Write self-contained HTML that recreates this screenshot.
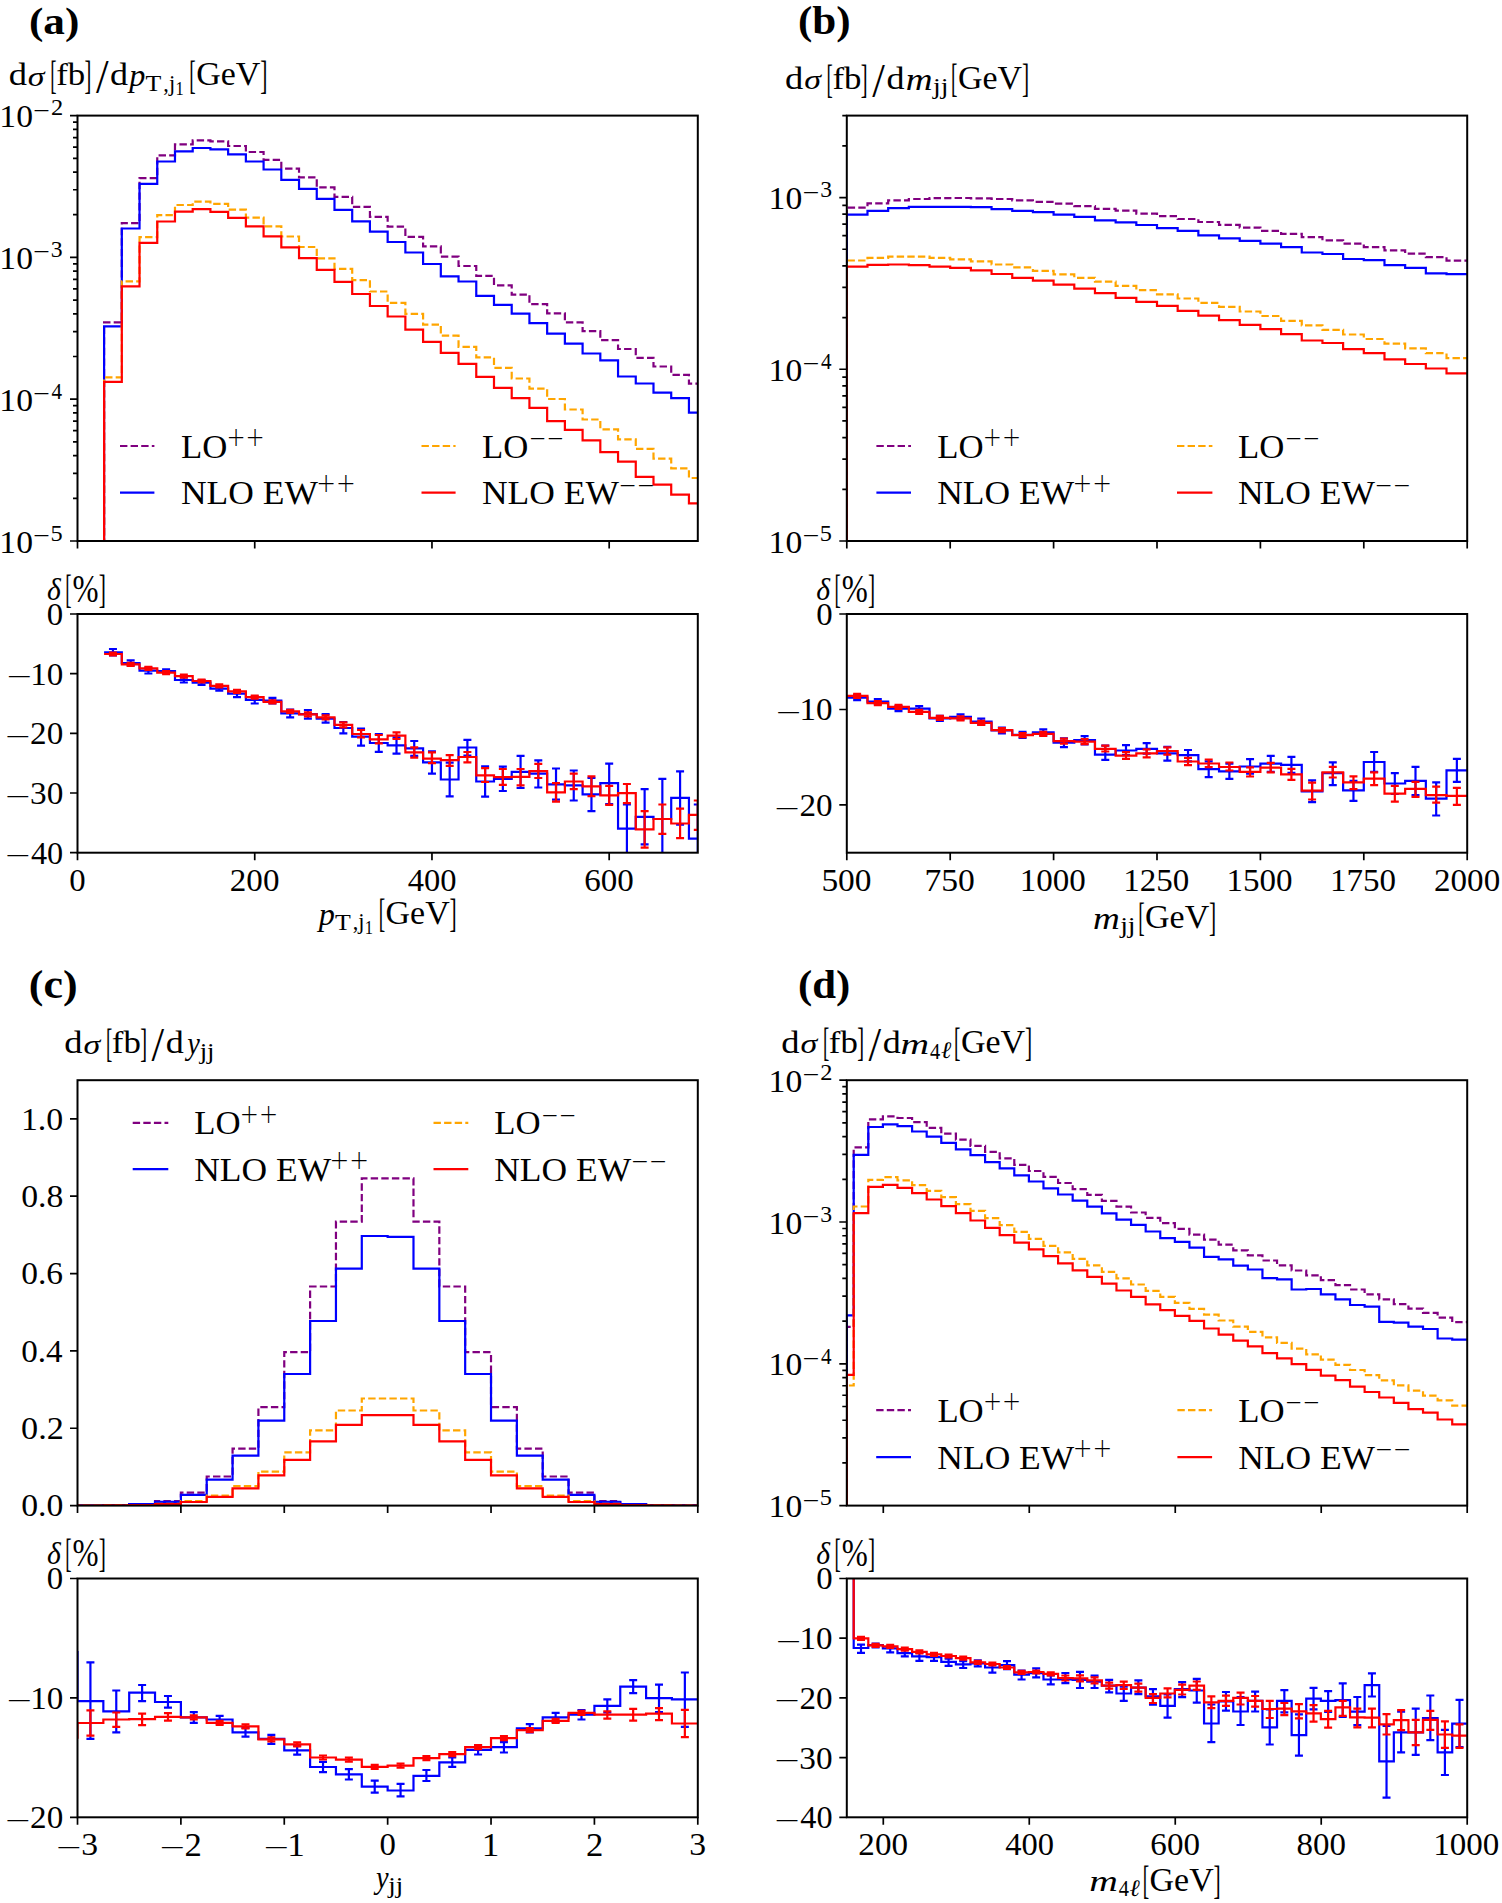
<!DOCTYPE html>
<html><head><meta charset="utf-8"><title>Differential distributions</title>
<style>html,body{margin:0;padding:0;background:#fff;}svg{display:block;}</style></head>
<body>
<svg width="1502" height="1903" viewBox="0 0 1502 1903" font-family="'Liberation Serif', 'DejaVu Serif', serif" fill="#000">
<defs><clipPath id="c1"><rect x="77.5" y="115.6" width="620.30" height="425.40"/></clipPath><clipPath id="c2"><rect x="77.5" y="614.0" width="620.30" height="238.70"/></clipPath><clipPath id="c3"><rect x="846.8" y="115.6" width="620.40" height="425.40"/></clipPath><clipPath id="c4"><rect x="846.8" y="614.0" width="620.40" height="238.70"/></clipPath><clipPath id="c5"><rect x="77.5" y="1080.2" width="620.30" height="425.40"/></clipPath><clipPath id="c6"><rect x="77.5" y="1578.5" width="620.30" height="238.80"/></clipPath><clipPath id="c7"><rect x="846.8" y="1080.2" width="620.40" height="425.40"/></clipPath><clipPath id="c8"><rect x="846.8" y="1578.5" width="620.40" height="238.80"/></clipPath></defs>
<rect width="1502" height="1903" fill="#fff"/>
<path d="M104.08 546V322.4H121.81V223.2H139.53V178.2H157.25V155.3H174.98V144.4H192.7V140.4H210.42V141.3H228.14V146H245.87V152H263.59V159.8H281.31V168.6H299.03V177.4H316.76V187.4H334.48V196.9H352.2V206.8H369.93V216.9H387.65V226.6H405.37V236.9H423.09V246.4H440.82V256.6H458.54V266H476.26V275.8H493.99V285.3H511.71V294.6H529.43V304.1H547.15V313.3H564.88V322.4H582.6V331.2H600.32V340.2H618.05V349H635.77V357.9H653.49V366.5H671.21V374.8H688.94V383.7H706.66H716.66" fill="none" stroke="#800080" stroke-width="2.2" stroke-dasharray="7.4 3.2" clip-path="url(#c1)"/>
<path d="M104.08 546V326.4H121.81V228.5H139.53V183.9H157.25V161.5H174.98V151.3H192.7V148H210.42V149.3H228.14V154.4H245.87V161.5H263.59V169.5H281.31V179.8H299.03V188.8H316.76V198.8H334.48V209.8H352.2V221.3H369.93V231.7H387.65V242H405.37V252.5H423.09V264H440.82V276.3H458.54V281.5H476.26V295.9H493.99V304.9H511.71V313.6H529.43V323.2H547.15V333.7H564.88V343.6H582.6V353.5H600.32V360.4H618.05V376.5H635.77V383.5H653.49V392.7H671.21V398.1H688.94V412.6H706.66H716.66" fill="none" stroke="#0000ff" stroke-width="2.2" clip-path="url(#c1)"/>
<path d="M104.08 546V377.4H121.81V281.3H139.53V237.2H157.25V215.2H174.98V205H192.7V201.6H210.42V203.9H228.14V209.6H245.87V217.6H263.59V226.4H281.31V236.5H299.03V247H316.76V258.4H334.48V268.9H352.2V280.1H369.93V291.5H387.65V302.8H405.37V313.8H423.09V324.7H440.82V335.7H458.54V346.8H476.26V357.4H493.99V367.9H511.71V378.5H529.43V388.7H547.15V399H564.88V409.5H582.6V419.5H600.32V429.4H618.05V439.4H635.77V448.9H653.49V458.6H671.21V468.4H688.94V478H706.66H716.66" fill="none" stroke="#ffa500" stroke-width="2.2" stroke-dasharray="7.4 3.2" clip-path="url(#c1)"/>
<path d="M104.08 546V381.8H121.81V286.4H139.53V242.8H157.25V221.5H174.98V211.6H192.7V209.2H210.42V211.9H228.14V217.9H245.87V226.3H263.59V236.3H281.31V247.3H299.03V258.1H316.76V269.8H334.48V281.8H352.2V294H369.93V306H387.65V316.5H405.37V329.6H423.09V341.9H440.82V352.9H458.54V363.8H476.26V376.8H493.99V387.8H511.71V398.1H529.43V407.8H547.15V421.1H564.88V429.8H582.6V440.3H600.32V452.2H618.05V461.7H635.77V476.9H653.49V484.7H671.21V494.7H688.94V503.3H706.66H716.66" fill="none" stroke="#ff0000" stroke-width="2.2" clip-path="url(#c1)"/>
<path d="M104.08 652.4H121.81V663H139.53V670.6H157.25V671H174.98V680H192.7V682.6H210.42V688.6H228.14V693.6H245.87V699.9H263.59V700.6H281.31V713.3H299.03V714.2H316.76V718.6H334.48V728H352.2V736.6H369.93V743H387.65V745.3H405.37V748.3H423.09V762.3H440.82V779.5H458.54V747.5H476.26V781.5H493.99V778.9H511.71V771.9H529.43V773.7H547.15V784.4H564.88V785.4H582.6V794.4H600.32V783.2H618.05V828.7H635.77V816.9H653.49V819H671.21V797.9H688.94V838.6H706.66" fill="none" stroke="#0000ff" stroke-width="2.2" clip-path="url(#c2)"/>
<path d="M112.95 649V655.5M108.95 649H116.95M108.95 655.5H116.95M130.67 660.4V665.5M126.67 660.4H134.67M126.67 665.5H134.67M148.39 667.5V673.5M144.39 667.5H152.39M144.39 673.5H152.39M166.11 669.3V673M162.11 669.3H170.11M162.11 673H170.11M183.84 677.5V682.5M179.84 677.5H187.84M179.84 682.5H187.84M201.56 680V685M197.56 680H205.56M197.56 685H205.56M219.28 686.5V690.6M215.28 686.5H223.28M215.28 690.6H223.28M237.01 690V697.2M233.01 690H241.01M233.01 697.2H241.01M254.73 696.5V703.5M250.73 696.5H258.73M250.73 703.5H258.73M272.45 697.9V703.5M268.45 697.9H276.45M268.45 703.5H276.45M290.17 709.5V717.3M286.17 709.5H294.17M286.17 717.3H294.17M307.9 710V718.6M303.9 710H311.9M303.9 718.6H311.9M325.62 714.2V722.6M321.62 714.2H329.62M321.62 722.6H329.62M343.34 722V733.3M339.34 722H347.34M339.34 733.3H347.34M361.06 728.6V745.7M357.06 728.6H365.06M357.06 745.7H365.06M378.79 734V751.9M374.79 734H382.79M374.79 751.9H382.79M396.51 737.3V753.6M392.51 737.3H400.51M392.51 753.6H400.51M414.23 741V755.9M410.23 741H418.23M410.23 755.9H418.23M431.96 751.3V773.6M427.96 751.3H435.96M427.96 773.6H435.96M449.68 762.6V796.3M445.68 762.6H453.68M445.68 796.3H453.68M467.4 739.9V755.5M463.4 739.9H471.4M463.4 755.5H471.4M485.12 766.4V796.7M481.12 766.4H489.12M481.12 796.7H489.12M502.85 766.7V791M498.85 766.7H506.85M498.85 791H506.85M520.57 755.8V788M516.57 755.8H524.57M516.57 788H524.57M538.29 760.3V787.5M534.29 760.3H542.29M534.29 787.5H542.29M556.02 768.5V799.6M552.02 768.5H560.02M552.02 799.6H560.02M573.74 770.5V800.5M569.74 770.5H577.74M569.74 800.5H577.74M591.46 778V811.2M587.46 778H595.46M587.46 811.2H595.46M609.18 763.6V804M605.18 763.6H613.18M605.18 804H613.18M626.91 804.3V860M622.91 804.3H630.91M622.91 860H630.91M644.63 789.2V844.3M640.63 789.2H648.63M640.63 844.3H648.63M662.35 778.9V860M658.35 778.9H666.35M658.35 860H666.35M680.08 771.4V824.7M676.08 771.4H684.08M676.08 824.7H684.08M697.8 804.5V872M693.8 804.5H701.8M693.8 872H701.8" fill="none" stroke="#0000ff" stroke-width="2.2" clip-path="url(#c2)"/>
<path d="M104.08 654H121.81V664.4H139.53V668.3H157.25V672.6H174.98V676.2H192.7V681H210.42V685.9H228.14V691.3H245.87V697.2H263.59V701.8H281.31V711.3H299.03V714.4H316.76V717.3H334.48V724.9H352.2V734H369.93V739.3H387.65V735.7H405.37V752.3H423.09V758.6H440.82V760.2H458.54V757H476.26V775.4H493.99V777.1H511.71V776.8H529.43V771.1H547.15V792.4H564.88V781.5H582.6V786.3H600.32V795.3H618.05V793.2H635.77V829.4H653.49V819H671.21V823.5H688.94V814.9H706.66" fill="none" stroke="#ff0000" stroke-width="2.2" clip-path="url(#c2)"/>
<path d="M112.95 652.5V655.5M108.95 652.5H116.95M108.95 655.5H116.95M130.67 662.9V665.9M126.67 662.9H134.67M126.67 665.9H134.67M148.39 666.8V669.8M144.39 666.8H152.39M144.39 669.8H152.39M166.11 671.1V674.1M162.11 671.1H170.11M162.11 674.1H170.11M183.84 674.7V677.7M179.84 674.7H187.84M179.84 677.7H187.84M201.56 679.5V682.5M197.56 679.5H205.56M197.56 682.5H205.56M219.28 684.4V687.4M215.28 684.4H223.28M215.28 687.4H223.28M237.01 689.8V692.8M233.01 689.8H241.01M233.01 692.8H241.01M254.73 695.7V698.7M250.73 695.7H258.73M250.73 698.7H258.73M272.45 700.3V703.3M268.45 700.3H276.45M268.45 703.3H276.45M290.17 709.8V712.8M286.17 709.8H294.17M286.17 712.8H294.17M307.9 712.4V716.4M303.9 712.4H311.9M303.9 716.4H311.9M325.62 715.3V719.3M321.62 715.3H329.62M321.62 719.3H329.62M343.34 722.4V727.3M339.34 722.4H347.34M339.34 727.3H347.34M361.06 730V737.3M357.06 730H365.06M357.06 737.3H365.06M378.79 735V743.3M374.79 735H382.79M374.79 743.3H382.79M396.51 732.3V739M392.51 732.3H400.51M392.51 739H400.51M414.23 747.3V757.6M410.23 747.3H418.23M410.23 757.6H418.23M431.96 752.3V763.2M427.96 752.3H435.96M427.96 763.2H435.96M449.68 755.2V765.9M445.68 755.2H453.68M445.68 765.9H453.68M467.4 752V762.4M463.4 752H471.4M463.4 762.4H471.4M485.12 768.1V782M481.12 768.1H489.12M481.12 782H489.12M502.85 769V784.9M498.85 769H506.85M498.85 784.9H506.85M520.57 769V785.4M516.57 769H524.57M516.57 785.4H524.57M538.29 763.8V778M534.29 763.8H542.29M534.29 778H542.29M556.02 783.2V801.7M552.02 783.2H560.02M552.02 801.7H560.02M573.74 773.7V789.2M569.74 773.7H577.74M569.74 789.2H577.74M591.46 776.3V796.2M587.46 776.3H595.46M587.46 796.2H595.46M609.18 785.8V804.8M605.18 785.8H613.18M605.18 804.8H613.18M626.91 784V803.1M622.91 784H630.91M622.91 803.1H630.91M644.63 811.2V847.7M640.63 811.2H648.63M640.63 847.7H648.63M662.35 804.5V833.9M658.35 804.5H666.35M658.35 833.9H666.35M680.08 808.6V838.2M676.08 808.6H684.08M676.08 838.2H684.08M697.8 800.5V829.9M693.8 800.5H701.8M693.8 829.9H701.8" fill="none" stroke="#ff0000" stroke-width="2.2" clip-path="url(#c2)"/>
<path d="M846.8 546V207.7H867.48V203.4H888.16V200.4H908.84V199H929.52V198.2H950.2V198H970.88V198.3H991.56V199H1012.24V200.3H1032.92V201.8H1053.6V203.7H1074.28V206.2H1094.96V208.8H1115.64V210.7H1136.32V213.6H1157V216.2H1177.68V219H1198.36V222H1219.04V224.9H1239.72V227.6H1260.4V230.8H1281.08V233.8H1301.76V237.2H1322.44V240.4H1343.12V243.7H1363.8V247.1H1384.48V250.3H1405.16V253.7H1425.84V257.1H1446.52V260.6H1467.2H1477.2" fill="none" stroke="#800080" stroke-width="2.2" stroke-dasharray="7.4 3.2" clip-path="url(#c3)"/>
<path d="M846.8 546V214.6H867.48V210.8H888.16V208.2H908.84V206.8H929.52V206.8H950.2V206.8H970.88V207.2H991.56V209.1H1012.24V210.8H1032.92V212.2H1053.6V214.6H1074.28V216.9H1094.96V220.4H1115.64V222.4H1136.32V225H1157V228.2H1177.68V230.9H1198.36V235.3H1219.04V238.3H1239.72V240.8H1260.4V243.7H1281.08V247.1H1301.76V252.5H1322.44V254H1343.12V259H1363.8V260.1H1384.48V265.2H1405.16V267.9H1425.84V273.3H1446.52V274.1H1467.2H1477.2" fill="none" stroke="#0000ff" stroke-width="2.2" clip-path="url(#c3)"/>
<path d="M846.8 546V260.5H867.48V257.9H888.16V256.7H908.84V256.7H929.52V257.9H950.2V259.3H970.88V261.4H991.56V264.5H1012.24V267.4H1032.92V270.9H1053.6V274.3H1074.28V277.8H1094.96V281.7H1115.64V285.9H1136.32V290.1H1157V294.3H1177.68V298.5H1198.36V302.8H1219.04V306.9H1239.72V311.5H1260.4V316H1281.08V320.8H1301.76V325.4H1322.44V329.8H1343.12V334.5H1363.8V339H1384.48V343.7H1405.16V348.3H1425.84V353.2H1446.52V358.1H1467.2H1477.2" fill="none" stroke="#ffa500" stroke-width="2.2" stroke-dasharray="7.4 3.2" clip-path="url(#c3)"/>
<path d="M846.8 546V266.6H867.48V264.8H888.16V264.5H908.84V265.2H929.52V266.6H950.2V267.9H970.88V270.4H991.56V274H1012.24V277.8H1032.92V280.7H1053.6V284.7H1074.28V288.6H1094.96V293.1H1115.64V297.9H1136.32V301.9H1157V305.9H1177.68V310.8H1198.36V315.6H1219.04V320.1H1239.72V324.9H1260.4V329.2H1281.08V334.1H1301.76V340.5H1322.44V343H1343.12V349.1H1363.8V353.2H1384.48V359.4H1405.16V364H1425.84V368.5H1446.52V373.4H1467.2H1477.2" fill="none" stroke="#ff0000" stroke-width="2.2" clip-path="url(#c3)"/>
<path d="M846.8 697.6H867.48V701.7H888.16V708.6H908.84V708.6H929.52V718.4H950.2V716.9H970.88V721.7H991.56V730.5H1012.24V734.9H1032.92V732.4H1053.6V742.7H1074.28V740.2H1094.96V754.7H1115.64V750.5H1136.32V748.9H1157V753.4H1177.68V755.2H1198.36V769.1H1219.04V771.3H1239.72V766.5H1260.4V763.6H1281.08V764.8H1301.76V791.5H1322.44V773.1H1343.12V790.4H1363.8V762H1384.48V783.5H1405.16V780.8H1425.84V798.7H1446.52V770.4H1467.2" fill="none" stroke="#0000ff" stroke-width="2.2" clip-path="url(#c4)"/>
<path d="M857.14 695.1V700.1M853.14 695.1H861.14M853.14 700.1H861.14M877.82 699.2V704.2M873.82 699.2H881.82M873.82 704.2H881.82M898.5 706.1V711.1M894.5 706.1H902.5M894.5 711.1H902.5M919.18 706.1V711.1M915.18 706.1H923.18M915.18 711.1H923.18M939.86 715.9V720.9M935.86 715.9H943.86M935.86 720.9H943.86M960.54 714.4V719.4M956.54 714.4H964.54M956.54 719.4H964.54M981.22 718.7V724.7M977.22 718.7H985.22M977.22 724.7H985.22M1001.9 727.5V733.5M997.9 727.5H1005.9M997.9 733.5H1005.9M1022.58 731.9V737.9M1018.58 731.9H1026.58M1018.58 737.9H1026.58M1043.26 729.4V735.4M1039.26 729.4H1047.26M1039.26 735.4H1047.26M1063.94 738.3V747.1M1059.94 738.3H1067.94M1059.94 747.1H1067.94M1084.62 736.1V744.3M1080.62 736.1H1088.62M1080.62 744.3H1088.62M1105.3 745.6V759.8M1101.3 745.6H1109.3M1101.3 759.8H1109.3M1125.98 745.2V755.2M1121.98 745.2H1129.98M1121.98 755.2H1129.98M1146.66 743.1V753.7M1142.66 743.1H1150.66M1142.66 753.7H1150.66M1167.34 746.8V760.6M1163.34 746.8H1171.34M1163.34 760.6H1171.34M1188.02 750V761.3M1184.02 750H1192.02M1184.02 761.3H1192.02M1208.7 761.3V777.1M1204.7 761.3H1212.7M1204.7 777.1H1212.7M1229.38 763.7V778.9M1225.38 763.7H1233.38M1225.38 778.9H1233.38M1250.06 759.2V773.7M1246.06 759.2H1254.06M1246.06 773.7H1254.06M1270.74 755.9V771.9M1266.74 755.9H1274.74M1266.74 771.9H1274.74M1291.42 756.8V772.8M1287.42 756.8H1295.42M1287.42 772.8H1295.42M1312.1 780.3V802.2M1308.1 780.3H1316.1M1308.1 802.2H1316.1M1332.78 762.3V785.1M1328.78 762.3H1336.78M1328.78 785.1H1336.78M1353.46 780.8V800.8M1349.46 780.8H1357.46M1349.46 800.8H1357.46M1374.14 752V771.9M1370.14 752H1378.14M1370.14 771.9H1378.14M1394.82 773.1V794M1390.82 773.1H1398.82M1390.82 794H1398.82M1415.5 766.8V795.2M1411.5 766.8H1419.5M1411.5 795.2H1419.5M1436.18 782.4V815.5M1432.18 782.4H1440.18M1432.18 815.5H1440.18M1456.86 758.8V781.9M1452.86 758.8H1460.86M1452.86 781.9H1460.86" fill="none" stroke="#0000ff" stroke-width="2.2" clip-path="url(#c4)"/>
<path d="M846.8 695.8H867.48V703.1H888.16V706.8H908.84V711.9H929.52V717.8H950.2V718.4H970.88V722.8H991.56V730.1H1012.24V735.2H1032.92V733.9H1053.6V741.2H1074.28V741.7H1094.96V748.9H1115.64V755.6H1136.32V753.4H1157V751H1177.68V761.5H1198.36V763.5H1219.04V767H1239.72V771.8H1260.4V767.6H1281.08V774.4H1301.76V790.7H1322.44V772.3H1343.12V782.4H1363.8V778.7H1384.48V793.6H1405.16V788.8H1425.84V795.2H1446.52V795.8H1467.2" fill="none" stroke="#ff0000" stroke-width="2.2" clip-path="url(#c4)"/>
<path d="M857.14 693.8V697.8M853.14 693.8H861.14M853.14 697.8H861.14M877.82 701.1V705.1M873.82 701.1H881.82M873.82 705.1H881.82M898.5 704.8V708.8M894.5 704.8H902.5M894.5 708.8H902.5M919.18 709.9V713.9M915.18 709.9H923.18M915.18 713.9H923.18M939.86 715.8V719.8M935.86 715.8H943.86M935.86 719.8H943.86M960.54 716.4V720.4M956.54 716.4H964.54M956.54 720.4H964.54M981.22 720.8V724.8M977.22 720.8H985.22M977.22 724.8H985.22M1001.9 728.1V732.1M997.9 728.1H1005.9M997.9 732.1H1005.9M1022.58 733.2V737.2M1018.58 733.2H1026.58M1018.58 737.2H1026.58M1043.26 731.9V735.9M1039.26 731.9H1047.26M1039.26 735.9H1047.26M1063.94 738.7V743.7M1059.94 738.7H1067.94M1059.94 743.7H1067.94M1084.62 739.2V744.2M1080.62 739.2H1088.62M1080.62 744.2H1088.62M1105.3 745.6V751.5M1101.3 745.6H1109.3M1101.3 751.5H1109.3M1125.98 752.2V758.8M1121.98 752.2H1129.98M1121.98 758.8H1129.98M1146.66 749.3V757.4M1142.66 749.3H1150.66M1142.66 757.4H1150.66M1167.34 747.4V754.7M1163.34 747.4H1171.34M1163.34 754.7H1171.34M1188.02 757.8V765.1M1184.02 757.8H1192.02M1184.02 765.1H1192.02M1208.7 759.5V767.2M1204.7 759.5H1212.7M1204.7 767.2H1212.7M1229.38 762.5V770.5M1225.38 762.5H1233.38M1225.38 770.5H1233.38M1250.06 767.3V776.5M1246.06 767.3H1254.06M1246.06 776.5H1254.06M1270.74 762.8V772.3M1266.74 762.8H1274.74M1266.74 772.3H1274.74M1291.42 768.8V779.9M1287.42 768.8H1295.42M1287.42 779.9H1295.42M1312.1 782.7V799.5M1308.1 782.7H1316.1M1308.1 799.5H1316.1M1332.78 766.8V777.5M1328.78 766.8H1336.78M1328.78 777.5H1336.78M1353.46 776.3V789.1M1349.46 776.3H1357.46M1349.46 789.1H1357.46M1374.14 772.3V785.1M1370.14 772.3H1378.14M1370.14 785.1H1378.14M1394.82 785.9V801.6M1390.82 785.9H1398.82M1390.82 801.6H1398.82M1415.5 781.9V796.8M1411.5 781.9H1419.5M1411.5 796.8H1419.5M1436.18 786.7V802.7M1432.18 786.7H1440.18M1432.18 802.7H1440.18M1456.86 787.8V804.8M1452.86 787.8H1460.86M1452.86 804.8H1460.86" fill="none" stroke="#ff0000" stroke-width="2.2" clip-path="url(#c4)"/>
<path d="M77.5 1510.6V1505.4H103.34V1505.2H129.19V1504H155.03V1501.1H180.88V1492.6H206.72V1476.5H232.57V1448.7H258.41V1407.2H284.26V1352.2H310.11V1286.5H335.95V1221.6H361.79V1178.4H387.64V1178.4H413.49V1221.6H439.33V1286.5H465.17V1352.2H491.02V1407.2H516.87V1448.7H542.71V1476.5H568.55V1492.6H594.4V1501.1H620.25V1504H646.09V1505.2H671.93V1505.4H697.78H707.78" fill="none" stroke="#800080" stroke-width="2.2" stroke-dasharray="7.4 3.2" clip-path="url(#c5)"/>
<path d="M77.5 1510.6V1505.4H103.34V1505.2H129.19V1504.2H155.03V1501.9H180.88V1494.8H206.72V1479.6H232.57V1455.7H258.41V1420.7H284.26V1374H310.11V1321H335.95V1268.7H361.79V1236H387.64V1236.9H413.49V1268.7H439.33V1321H465.17V1374H491.02V1420.7H516.87V1455.7H542.71V1479.6H568.55V1494.8H594.4V1501.9H620.25V1504.2H646.09V1505.2H671.93V1505.4H697.78H707.78" fill="none" stroke="#0000ff" stroke-width="2.2" clip-path="url(#c5)"/>
<path d="M77.5 1510.6V1505.5H103.34V1505.4H129.19V1505H155.03V1503.8H180.88V1501H206.72V1495.6H232.57V1486.1H258.41V1471.6H284.26V1452.4H310.11V1430.3H335.95V1410.5H361.79V1398.5H387.64V1398.5H413.49V1410.5H439.33V1430.3H465.17V1452.4H491.02V1471.6H516.87V1486.1H542.71V1495.6H568.55V1501H594.4V1503.8H620.25V1505H646.09V1505.4H671.93V1505.5H697.78H707.78" fill="none" stroke="#ffa500" stroke-width="2.2" stroke-dasharray="7.4 3.2" clip-path="url(#c5)"/>
<path d="M77.5 1510.6V1505.5H103.34V1505.4H129.19V1505H155.03V1504.1H180.88V1502H206.72V1496.8H232.57V1488.4H258.41V1475.4H284.26V1459.8H310.11V1441.4H335.95V1424.8H361.79V1415.1H387.64V1415.1H413.49V1424.8H439.33V1441.4H465.17V1459.8H491.02V1475.4H516.87V1488.4H542.71V1496.8H568.55V1502H594.4V1504.1H620.25V1505H646.09V1505.4H671.93V1505.5H697.78H707.78" fill="none" stroke="#ff0000" stroke-width="2.2" clip-path="url(#c5)"/>
<path d="M77.5 1651V1701.1H103.34V1711.4H129.19V1692.7H155.03V1702H180.88V1717.3H206.72V1719.5H232.57V1732.3H258.41V1738.9H284.26V1750.3H310.11V1767H335.95V1774.4H361.79V1786.7H387.64V1790.5H413.49V1775.8H439.33V1762.4H465.17V1749.8H491.02V1747.2H516.87V1728.3H542.71V1717.3H568.55V1714.7H594.4V1705.9H620.25V1686.6H646.09V1698.2H671.93V1699.3H697.78" fill="none" stroke="#0000ff" stroke-width="2.2" clip-path="url(#c6)"/>
<path d="M90.42 1662.4V1738.9M86.42 1662.4H94.42M86.42 1738.9H94.42M116.27 1690.5V1732.3M112.27 1690.5H120.27M112.27 1732.3H120.27M142.11 1685V1701.1M138.11 1685H146.11M138.11 1701.1H146.11M167.96 1696V1707.7M163.96 1696H171.96M163.96 1707.7H171.96M193.8 1712.1V1722.8M189.8 1712.1H197.8M189.8 1722.8H197.8M219.65 1715.8V1723.5M215.65 1715.8H223.65M215.65 1723.5H223.65M245.49 1728V1736.7M241.49 1728H249.49M241.49 1736.7H249.49M271.34 1734.9V1743.9M267.34 1734.9H275.34M267.34 1743.9H275.34M297.18 1746V1754.7M293.18 1746H301.18M293.18 1754.7H301.18M323.03 1761.9V1772.2M319.03 1761.9H327.03M319.03 1772.2H327.03M348.87 1769.2V1779.5M344.87 1769.2H352.87M344.87 1779.5H352.87M374.72 1780.6V1792.7M370.72 1780.6H378.72M370.72 1792.7H378.72M400.56 1783.9V1796.4M396.56 1783.9H404.56M396.56 1796.4H404.56M426.41 1770V1781M422.41 1770H430.41M422.41 1781H430.41M452.25 1757.5V1766.8M448.25 1757.5H456.25M448.25 1766.8H456.25M478.1 1745V1754.5M474.1 1745H482.1M474.1 1754.5H482.1M503.94 1742.2V1752.5M499.94 1742.2H507.94M499.94 1752.5H507.94M529.79 1724.1V1732.5M525.79 1724.1H533.79M525.79 1732.5H533.79M555.63 1712.9V1722M551.63 1712.9H559.63M551.63 1722H559.63M581.48 1710V1719.5M577.48 1710H585.48M577.48 1719.5H585.48M607.32 1699.3V1712.5M603.32 1699.3H611.32M603.32 1712.5H611.32M633.17 1680.2V1693.2M629.17 1680.2H637.17M629.17 1693.2H637.17M659.01 1684.6V1712.1M655.01 1684.6H663.01M655.01 1712.1H663.01M684.86 1672.5V1726.8M680.86 1672.5H688.86M680.86 1726.8H688.86" fill="none" stroke="#0000ff" stroke-width="2.2" clip-path="url(#c6)"/>
<path d="M77.5 1738.8V1723H103.34V1719.5H129.19V1719.1H155.03V1716.9H180.88V1717.3H206.72V1722.8H232.57V1726.3H258.41V1739.3H284.26V1744.3H310.11V1757.5H335.95V1759.7H361.79V1766.8H387.64V1765.7H413.49V1758.2H439.33V1754.2H465.17V1747.2H491.02V1738.2H516.87V1730.1H542.71V1720.8H568.55V1712.9H594.4V1714.7H620.25V1714.7H646.09V1713.6H671.93V1723.5H697.78" fill="none" stroke="#ff0000" stroke-width="2.2" clip-path="url(#c6)"/>
<path d="M90.42 1710.3V1735.6M86.42 1710.3H94.42M86.42 1735.6H94.42M116.27 1712.5V1726.8M112.27 1712.5H120.27M112.27 1726.8H120.27M142.11 1713.6V1725.2M138.11 1713.6H146.11M138.11 1725.2H146.11M167.96 1713.2V1720.6M163.96 1713.2H171.96M163.96 1720.6H171.96M193.8 1715.3V1719.3M189.8 1715.3H197.8M189.8 1719.3H197.8M219.65 1720.8V1724.8M215.65 1720.8H223.65M215.65 1724.8H223.65M245.49 1724.3V1728.3M241.49 1724.3H249.49M241.49 1728.3H249.49M271.34 1737.3V1741.3M267.34 1737.3H275.34M267.34 1741.3H275.34M297.18 1742.3V1746.3M293.18 1742.3H301.18M293.18 1746.3H301.18M323.03 1755.5V1759.5M319.03 1755.5H327.03M319.03 1759.5H327.03M348.87 1757.7V1761.7M344.87 1757.7H352.87M344.87 1761.7H352.87M374.72 1764.8V1768.8M370.72 1764.8H378.72M370.72 1768.8H378.72M400.56 1763.7V1767.7M396.56 1763.7H404.56M396.56 1767.7H404.56M426.41 1756.2V1760.2M422.41 1756.2H430.41M422.41 1760.2H430.41M452.25 1752.2V1756.2M448.25 1752.2H456.25M448.25 1756.2H456.25M478.1 1745.2V1749.2M474.1 1745.2H482.1M474.1 1749.2H482.1M503.94 1736.2V1740.2M499.94 1736.2H507.94M499.94 1740.2H507.94M529.79 1728.1V1732.1M525.79 1728.1H533.79M525.79 1732.1H533.79M555.63 1718.8V1722.8M551.63 1718.8H559.63M551.63 1722.8H559.63M581.48 1710.9V1714.9M577.48 1710.9H585.48M577.48 1714.9H585.48M607.32 1711.4V1718.6M603.32 1711.4H611.32M603.32 1718.6H611.32M633.17 1708.8V1720.6M629.17 1708.8H637.17M629.17 1720.6H637.17M659.01 1708.1V1720.2M655.01 1708.1H663.01M655.01 1720.2H663.01M684.86 1709.9V1737.1M680.86 1709.9H688.86M680.86 1737.1H688.86" fill="none" stroke="#ff0000" stroke-width="2.2" clip-path="url(#c6)"/>
<path d="M846.8 1510.6V1326.9H853.7V1147.3H868.3V1119.3H882.9V1116.4H897.49V1118H912.09V1122.2H926.69V1127.9H941.29V1133.7H955.89V1139.7H970.48V1145.9H985.08V1151.9H999.68V1158.3H1014.28V1164.8H1028.88V1171H1043.47V1176.8H1058.07V1183H1072.67V1189.1H1087.27V1194.9H1101.87V1200.9H1116.46V1206.7H1131.06V1212.5H1145.66V1217.9H1160.26V1223.2H1174.86V1228.9H1189.45V1234.6H1204.05V1239.6H1218.65V1244.7H1233.25V1250.4H1247.85V1255.3H1262.44V1260.5H1277.04V1265.4H1291.64V1270.5H1306.24V1275.3H1320.84V1280.2H1335.43V1285.1H1350.03V1289.5H1364.63V1294.4H1379.23V1299.3H1393.83V1304.2H1408.42V1308.6H1423.02V1312.9H1437.62V1317.6H1452.22V1322.2H1466.82H1476.82" fill="none" stroke="#800080" stroke-width="2.2" stroke-dasharray="7.4 3.2" clip-path="url(#c7)"/>
<path d="M846.8 1510.6V1315.4H853.7V1154.8H868.3V1127H882.9V1124.4H897.49V1126.2H912.09V1131.5H926.69V1136.6H941.29V1142.9H955.89V1149.3H970.48V1155.2H985.08V1162.2H999.68V1168.3H1014.28V1175.3H1028.88V1181.5H1043.47V1188.3H1058.07V1194.5H1072.67V1200.6H1087.27V1206.7H1101.87V1213.3H1116.46V1219.7H1131.06V1224.8H1145.66V1231.5H1160.26V1238.1H1174.86V1241.9H1189.45V1247.6H1204.05V1256.8H1218.65V1259.3H1233.25V1265.6H1247.85V1269.5H1262.44V1278.1H1277.04V1279.4H1291.64V1289.5H1306.24V1289H1320.84V1294.4H1335.43V1299.3H1350.03V1305H1364.63V1306.7H1379.23V1321.8H1393.83V1322.6H1408.42V1326.6H1423.02V1329H1437.62V1338.5H1452.22V1339.6H1466.82H1476.82" fill="none" stroke="#0000ff" stroke-width="2.2" clip-path="url(#c7)"/>
<path d="M846.8 1510.6V1385.5H853.7V1206.5H868.3V1179.9H882.9V1177.2H897.49V1180.3H912.09V1185.2H926.69V1190.9H941.29V1197.2H955.89V1204.2H970.48V1210.9H985.08V1218.1H999.68V1225.2H1014.28V1231.9H1028.88V1238.9H1043.47V1245.8H1058.07V1252.3H1072.67V1258.8H1087.27V1265.4H1101.87V1271.8H1116.46V1278.4H1131.06V1284.5H1145.66V1290.9H1160.26V1296.8H1174.86V1302.9H1189.45V1308.8H1204.05V1314.7H1218.65V1320.5H1233.25V1326.6H1247.85V1331.9H1262.44V1337.3H1277.04V1342.9H1291.64V1348.6H1306.24V1354.3H1320.84V1359.7H1335.43V1364.9H1350.03V1370H1364.63V1375.2H1379.23V1380.4H1393.83V1385.4H1408.42V1390.7H1423.02V1395.6H1437.62V1400.4H1452.22V1405.7H1466.82H1476.82" fill="none" stroke="#ffa500" stroke-width="2.2" stroke-dasharray="7.4 3.2" clip-path="url(#c7)"/>
<path d="M846.8 1510.6V1374.9H853.7V1213.2H868.3V1186.9H882.9V1184.8H897.49V1187.9H912.09V1193.2H926.69V1199.5H941.29V1206.2H955.89V1213.2H970.48V1220.5H985.08V1227.8H999.68V1235.1H1014.28V1242.6H1028.88V1249.3H1043.47V1256.2H1058.07V1263.4H1072.67V1270.3H1087.27V1276.8H1101.87V1283.7H1116.46V1290.5H1131.06V1296.8H1145.66V1304.3H1160.26V1310.1H1174.86V1315.9H1189.45V1320.8H1204.05V1328.5H1218.65V1334.7H1233.25V1340.6H1247.85V1346.3H1262.44V1353.1H1277.04V1358.4H1291.64V1364.2H1306.24V1369.9H1320.84V1375.7H1335.43V1380.1H1350.03V1386.6H1364.63V1392H1379.23V1397.5H1393.83V1402.9H1408.42V1409.1H1423.02V1412.7H1437.62V1419.5H1452.22V1424.4H1466.82H1476.82" fill="none" stroke="#ff0000" stroke-width="2.2" clip-path="url(#c7)"/>
<path d="M853.7 1570V1648H868.3V1645.1H882.9V1648.3H897.49V1653.1H912.09V1656.3H926.69V1657.1H941.29V1661.9H955.89V1664.3H970.48V1663.5H985.08V1667.5H999.68V1665.1H1014.28V1674.7H1028.88V1673.1H1043.47V1679.5H1058.07V1679.3H1072.67V1679.8H1087.27V1681.7H1101.87V1685.7H1116.46V1693.5H1131.06V1687.6H1145.66V1696.4H1160.26V1705.9H1174.86V1689.1H1189.45V1690.5H1204.05V1723.5H1218.65V1701.5H1233.25V1711.5H1247.85V1700.8H1262.44V1727.3H1277.04V1700.8H1291.64V1735.2H1306.24V1698.7H1320.84V1700.8H1335.43V1700.1H1350.03V1711.6H1364.63V1685.1H1379.23V1761.4H1393.83V1732.3H1408.42V1732.3H1423.02V1718H1437.62V1752.3H1452.22V1723.7H1466.82" fill="none" stroke="#0000ff" stroke-width="2.2" clip-path="url(#c8)"/>
<path d="M861 1644.6V1652.8M857 1644.6H865M857 1652.8H865M875.6 1643.5V1647.5M871.6 1643.5H879.6M871.6 1647.5H879.6M890.2 1646.7V1652.3M886.2 1646.7H894.2M886.2 1652.3H894.2M904.79 1650V1656.3M900.79 1650H908.79M900.79 1656.3H908.79M919.39 1652.8V1660.8M915.39 1652.8H923.39M915.39 1660.8H923.39M933.99 1653.9V1660.8M929.99 1653.9H937.99M929.99 1660.8H937.99M948.59 1658.7V1665.9M944.59 1658.7H952.59M944.59 1665.9H952.59M963.19 1661.1V1668M959.19 1661.1H967.19M959.19 1668H967.19M977.78 1660.3V1666.4M973.78 1660.3H981.78M973.78 1666.4H981.78M992.38 1664.3V1672.7M988.38 1664.3H996.38M988.38 1672.7H996.38M1006.98 1661.1V1669.1M1002.98 1661.1H1010.98M1002.98 1669.1H1010.98M1021.58 1670.7V1679.5M1017.58 1670.7H1025.58M1017.58 1679.5H1025.58M1036.18 1668.3V1677.4M1032.18 1668.3H1040.18M1032.18 1677.4H1040.18M1050.77 1675.5V1684.3M1046.77 1675.5H1054.77M1046.77 1684.3H1054.77M1065.37 1673V1683.2M1061.37 1673H1069.37M1061.37 1683.2H1069.37M1079.97 1671.9V1688M1075.97 1671.9H1083.97M1075.97 1688H1083.97M1094.57 1675.6V1688M1090.57 1675.6H1098.57M1090.57 1688H1098.57M1109.16 1679.8V1692.3M1105.16 1679.8H1113.16M1105.16 1692.3H1113.16M1123.76 1686.6V1700.8M1119.76 1686.6H1127.76M1119.76 1700.8H1127.76M1138.36 1680.3V1694.2M1134.36 1680.3H1142.36M1134.36 1694.2H1142.36M1152.96 1689.1V1704.7M1148.96 1689.1H1156.96M1148.96 1704.7H1156.96M1167.56 1694.5V1717.6M1163.56 1694.5H1171.56M1163.56 1717.6H1171.56M1182.16 1682.2V1697.1M1178.16 1682.2H1186.16M1178.16 1697.1H1186.16M1196.75 1678.8V1702.7M1192.75 1678.8H1200.75M1192.75 1702.7H1200.75M1211.35 1704.5V1742.2M1207.35 1704.5H1215.35M1207.35 1742.2H1215.35M1225.95 1692V1710.6M1221.95 1692H1229.95M1221.95 1710.6H1229.95M1240.55 1697.1V1725M1236.55 1697.1H1244.55M1236.55 1725H1244.55M1255.14 1691.6V1711.5M1251.14 1691.6H1259.14M1251.14 1711.5H1259.14M1269.74 1709.4V1744.5M1265.74 1709.4H1273.74M1265.74 1744.5H1273.74M1284.34 1690.1V1712.3M1280.34 1690.1H1288.34M1280.34 1712.3H1288.34M1298.94 1714.4V1755.6M1294.94 1714.4H1302.94M1294.94 1755.6H1302.94M1313.54 1687.9V1709.4M1309.54 1687.9H1317.54M1309.54 1709.4H1317.54M1328.14 1691.1V1711.8M1324.14 1691.1H1332.14M1324.14 1711.8H1332.14M1342.73 1683.4V1717M1338.73 1683.4H1346.73M1338.73 1717H1346.73M1357.33 1697V1725.1M1353.33 1697H1361.33M1353.33 1725.1H1361.33M1371.93 1673.3V1696.5M1367.93 1673.3H1375.93M1367.93 1696.5H1375.93M1386.53 1725.9V1797.7M1382.53 1725.9H1390.53M1382.53 1797.7H1390.53M1401.12 1711.6V1752.3M1397.12 1711.6H1405.12M1397.12 1752.3H1405.12M1415.72 1708.7V1754.9M1411.72 1708.7H1419.72M1411.72 1754.9H1419.72M1430.32 1695.5V1740.2M1426.32 1695.5H1434.32M1426.32 1740.2H1434.32M1444.92 1729.9V1775M1440.92 1729.9H1448.92M1440.92 1775H1448.92M1459.52 1699.8V1747M1455.52 1699.8H1463.52M1455.52 1747H1463.52" fill="none" stroke="#0000ff" stroke-width="2.2" clip-path="url(#c8)"/>
<path d="M853.7 1570V1638.4H868.3V1645.4H882.9V1646.4H897.49V1649.1H912.09V1651.8H926.69V1654.4H941.29V1656H955.89V1658.2H970.48V1662.4H985.08V1664H999.68V1667.5H1014.28V1672.3H1028.88V1672H1043.47V1673.9H1058.07V1678H1072.67V1678.4H1087.27V1680.3H1101.87V1685.7H1116.46V1685.1H1131.06V1687.6H1145.66V1697.9H1160.26V1693.5H1174.86V1689.8H1189.45V1685.7H1204.05V1702.3H1218.65V1700.8H1233.25V1697.9H1247.85V1700.8H1262.44V1709H1277.04V1708.7H1291.64V1711.3H1306.24V1713.4H1320.84V1719.1H1335.43V1707.3H1350.03V1717.3H1364.63V1717.7H1379.23V1724.4H1393.83V1720.1H1408.42V1732.3H1423.02V1719.9H1437.62V1734.5H1452.22V1735.6H1466.82" fill="none" stroke="#ff0000" stroke-width="2.2" clip-path="url(#c8)"/>
<path d="M861 1636.9V1639.9M857 1636.9H865M857 1639.9H865M875.6 1643.9V1646.9M871.6 1643.9H879.6M871.6 1646.9H879.6M890.2 1644.9V1647.9M886.2 1644.9H894.2M886.2 1647.9H894.2M904.79 1647.6V1650.6M900.79 1647.6H908.79M900.79 1650.6H908.79M919.39 1650.3V1653.3M915.39 1650.3H923.39M915.39 1653.3H923.39M933.99 1652.9V1655.9M929.99 1652.9H937.99M929.99 1655.9H937.99M948.59 1654.5V1657.5M944.59 1654.5H952.59M944.59 1657.5H952.59M963.19 1656.7V1659.7M959.19 1656.7H967.19M959.19 1659.7H967.19M977.78 1660.9V1663.9M973.78 1660.9H981.78M973.78 1663.9H981.78M992.38 1662.5V1665.5M988.38 1662.5H996.38M988.38 1665.5H996.38M1006.98 1666V1669M1002.98 1666H1010.98M1002.98 1669H1010.98M1021.58 1670.8V1673.8M1017.58 1670.8H1025.58M1017.58 1673.8H1025.58M1036.18 1670.5V1673.5M1032.18 1670.5H1040.18M1032.18 1673.5H1040.18M1050.77 1672.4V1675.4M1046.77 1672.4H1054.77M1046.77 1675.4H1054.77M1065.37 1675.5V1680.5M1061.37 1675.5H1069.37M1061.37 1680.5H1069.37M1079.97 1675.4V1681.4M1075.97 1675.4H1083.97M1075.97 1681.4H1083.97M1094.57 1677.3V1683.3M1090.57 1677.3H1098.57M1090.57 1683.3H1098.57M1109.16 1682.7V1688.7M1105.16 1682.7H1113.16M1105.16 1688.7H1113.16M1123.76 1681.7V1689M1119.76 1681.7H1127.76M1119.76 1689H1127.76M1138.36 1683.6V1691.6M1134.36 1683.6H1142.36M1134.36 1691.6H1142.36M1152.96 1694.2V1703M1148.96 1694.2H1156.96M1148.96 1703H1156.96M1167.56 1688.3V1697.4M1163.56 1688.3H1171.56M1163.56 1697.4H1171.56M1182.16 1684.7V1694.5M1178.16 1684.7H1186.16M1178.16 1694.5H1186.16M1196.75 1681.5V1689.8M1192.75 1681.5H1200.75M1192.75 1689.8H1200.75M1211.35 1696.4V1708.1M1207.35 1696.4H1215.35M1207.35 1708.1H1215.35M1225.95 1695.7V1705.9M1221.95 1695.7H1229.95M1221.95 1705.9H1229.95M1240.55 1692.7V1704.5M1236.55 1692.7H1244.55M1236.55 1704.5H1244.55M1255.14 1696V1706.6M1251.14 1696H1259.14M1251.14 1706.6H1259.14M1269.74 1700.8V1718M1265.74 1700.8H1273.74M1265.74 1718H1273.74M1284.34 1703V1715.1M1280.34 1703H1288.34M1280.34 1715.1H1288.34M1298.94 1704.1V1718.4M1294.94 1704.1H1302.94M1294.94 1718.4H1302.94M1313.54 1705.1V1721.6M1309.54 1705.1H1317.54M1309.54 1721.6H1317.54M1328.14 1710.8V1727.7M1324.14 1710.8H1332.14M1324.14 1727.7H1332.14M1342.73 1700.8V1715.8M1338.73 1700.8H1346.73M1338.73 1715.8H1346.73M1357.33 1708.7V1727.3M1353.33 1708.7H1361.33M1353.33 1727.3H1361.33M1371.93 1708.7V1727.3M1367.93 1708.7H1375.93M1367.93 1727.3H1375.93M1386.53 1714.1V1734.5M1382.53 1714.1H1390.53M1382.53 1734.5H1390.53M1401.12 1710.1V1730.2M1397.12 1710.1H1405.12M1397.12 1730.2H1405.12M1415.72 1719.9V1745.2M1411.72 1719.9H1419.72M1411.72 1745.2H1419.72M1430.32 1710.8V1729.9M1426.32 1710.8H1434.32M1426.32 1729.9H1434.32M1444.92 1721.3V1747.8M1440.92 1721.3H1448.92M1440.92 1747.8H1448.92M1459.52 1724.4V1747.8M1455.52 1724.4H1463.52M1455.52 1747.8H1463.52" fill="none" stroke="#ff0000" stroke-width="2.2" clip-path="url(#c8)"/>
<rect x="77.5" y="115.6" width="620.3" height="425.4" fill="none" stroke="#000" stroke-width="2.0"/>
<rect x="77.5" y="614" width="620.3" height="238.7" fill="none" stroke="#000" stroke-width="2.0"/>
<path d="M70 541H77.5M70 399.2H77.5M70 257.4H77.5M70 115.6H77.5" stroke="#000" stroke-width="1.7" fill="none"/>
<path d="M73 498.31H77.5M73 473.34H77.5M73 455.63H77.5M73 441.89H77.5M73 430.66H77.5M73 421.17H77.5M73 412.94H77.5M73 405.69H77.5M73 356.51H77.5M73 331.54H77.5M73 313.83H77.5M73 300.09H77.5M73 288.86H77.5M73 279.37H77.5M73 271.14H77.5M73 263.89H77.5M73 214.71H77.5M73 189.74H77.5M73 172.03H77.5M73 158.29H77.5M73 147.06H77.5M73 137.57H77.5M73 129.34H77.5M73 122.09H77.5" stroke="#000" stroke-width="1.7" fill="none"/>
<text x="-0.66" y="552.58" font-size="32.6" textLength="33.64" lengthAdjust="spacingAndGlyphs">10</text>
<text x="32.36" y="545.01" font-size="29.97" textLength="18.47" lengthAdjust="spacingAndGlyphs" font-family="'DejaVu Sans', sans-serif" font-weight="200">−</text>
<text x="50.59" y="540.57" font-size="23.47" textLength="12.16" lengthAdjust="spacingAndGlyphs">5</text>
<text x="-0.66" y="410.78" font-size="32.6" textLength="33.64" lengthAdjust="spacingAndGlyphs">10</text>
<text x="32.36" y="403.21" font-size="29.97" textLength="18.47" lengthAdjust="spacingAndGlyphs" font-family="'DejaVu Sans', sans-serif" font-weight="200">−</text>
<text x="51.59" y="399" font-size="23.7" textLength="10.54" lengthAdjust="spacingAndGlyphs">4</text>
<text x="-0.66" y="268.98" font-size="32.6" textLength="33.64" lengthAdjust="spacingAndGlyphs">10</text>
<text x="32.36" y="261.41" font-size="29.97" textLength="18.47" lengthAdjust="spacingAndGlyphs" font-family="'DejaVu Sans', sans-serif" font-weight="200">−</text>
<text x="50.86" y="256.97" font-size="23.22" textLength="11.86" lengthAdjust="spacingAndGlyphs">3</text>
<text x="-0.66" y="127.18" font-size="32.6" textLength="33.64" lengthAdjust="spacingAndGlyphs">10</text>
<text x="32.36" y="119.61" font-size="29.97" textLength="18.47" lengthAdjust="spacingAndGlyphs" font-family="'DejaVu Sans', sans-serif" font-weight="200">−</text>
<text x="50.93" y="115.4" font-size="23.56" textLength="12.22" lengthAdjust="spacingAndGlyphs">2</text>
<path d="M77.5 541V548.5M254.73 541V548.5M431.96 541V548.5M609.18 541V548.5" stroke="#000" stroke-width="1.7" fill="none"/>
<path d="M77.5 852.7V860.2M254.73 852.7V860.2M431.96 852.7V860.2M609.18 852.7V860.2" stroke="#000" stroke-width="1.7" fill="none"/>
<text x="69.3" y="890.58" font-size="32.31" textLength="16.4" lengthAdjust="spacingAndGlyphs">0</text>
<text x="229.82" y="890.58" font-size="32.31" textLength="49.61" lengthAdjust="spacingAndGlyphs">200</text>
<text x="407.87" y="890.58" font-size="32.31" textLength="48.77" lengthAdjust="spacingAndGlyphs">400</text>
<text x="584.31" y="890.58" font-size="32.31" textLength="49.58" lengthAdjust="spacingAndGlyphs">600</text>
<path d="M70 614H77.5M70 673.67H77.5M70 733.35H77.5M70 793.02H77.5M70 852.7H77.5" stroke="#000" stroke-width="1.7" fill="none"/>
<text x="46.85" y="624.99" font-size="32.01" textLength="16.4" lengthAdjust="spacingAndGlyphs">0</text>
<text x="5.18" y="687.27" font-size="32.47" textLength="27.84" lengthAdjust="spacingAndGlyphs" font-family="'DejaVu Sans', sans-serif" font-weight="200">−</text>
<text x="30.19" y="684.66" font-size="32.01" textLength="33.07" lengthAdjust="spacingAndGlyphs">10</text>
<text x="3.68" y="746.94" font-size="32.47" textLength="27.84" lengthAdjust="spacingAndGlyphs" font-family="'DejaVu Sans', sans-serif" font-weight="200">−</text>
<text x="30.14" y="744.34" font-size="32.01" textLength="33.12" lengthAdjust="spacingAndGlyphs">20</text>
<text x="3.68" y="806.62" font-size="32.47" textLength="27.84" lengthAdjust="spacingAndGlyphs" font-family="'DejaVu Sans', sans-serif" font-weight="200">−</text>
<text x="30.01" y="804.01" font-size="32.01" textLength="33.26" lengthAdjust="spacingAndGlyphs">30</text>
<text x="3.68" y="866.29" font-size="32.47" textLength="27.84" lengthAdjust="spacingAndGlyphs" font-family="'DejaVu Sans', sans-serif" font-weight="200">−</text>
<text x="30.97" y="863.69" font-size="32.01" textLength="32.26" lengthAdjust="spacingAndGlyphs">40</text>
<path d="M120 446H154.4" stroke="#800080" stroke-width="2.2" stroke-dasharray="7.4 3.2"/>
<path d="M120 492.6H154.4" stroke="#0000ff" stroke-width="2.2"/>
<path d="M421.5 446H455.6" stroke="#ffa500" stroke-width="2.2" stroke-dasharray="7.4 3.2"/>
<path d="M421.5 492.6H455.6" stroke="#ff0000" stroke-width="2.2"/>
<text x="181" y="457.67" font-size="34.23" textLength="46.33" lengthAdjust="spacingAndGlyphs">LO</text>
<text x="482" y="457.67" font-size="34.23" textLength="46.33" lengthAdjust="spacingAndGlyphs">LO</text>
<text x="180.98" y="503.9" font-size="33.08" textLength="136.89" lengthAdjust="spacingAndGlyphs">NLO EW</text>
<text x="481.98" y="503.9" font-size="33.08" textLength="136.89" lengthAdjust="spacingAndGlyphs">NLO EW</text>
<text x="226.48" y="445.8" font-size="25.68" textLength="38.24" lengthAdjust="spacingAndGlyphs" font-family="'DejaVu Sans', sans-serif" font-weight="200">++</text>
<text x="316.3" y="492.4" font-size="25.68" textLength="39.49" lengthAdjust="spacingAndGlyphs" font-family="'DejaVu Sans', sans-serif" font-weight="200">++</text>
<text x="528.66" y="448.01" font-size="29.97" textLength="35.49" lengthAdjust="spacingAndGlyphs" font-family="'DejaVu Sans', sans-serif" font-weight="200">−−</text>
<text x="618.49" y="494.71" font-size="29.97" textLength="36.52" lengthAdjust="spacingAndGlyphs" font-family="'DejaVu Sans', sans-serif" font-weight="200">−−</text>
<text x="28.9" y="34.28" font-size="38.6" textLength="50.4" lengthAdjust="spacingAndGlyphs" font-weight="bold">(a)</text>
<text x="8.78" y="85.49" font-size="32.12" textLength="18.27" lengthAdjust="spacingAndGlyphs">d</text>
<text x="27.89" y="85.54" font-size="26.65" textLength="16.73" lengthAdjust="spacingAndGlyphs" font-style="italic">σ</text>
<text x="50.3" y="88.77" font-size="39.87" textLength="6.28" lengthAdjust="spacingAndGlyphs">[</text>
<text x="56.23" y="85.49" font-size="32.08" textLength="29" lengthAdjust="spacingAndGlyphs">fb</text>
<text x="84.55" y="88.77" font-size="39.87" textLength="6.88" lengthAdjust="spacingAndGlyphs">]</text>
<text x="96" y="93.23" font-size="48.43" textLength="12.6" lengthAdjust="spacingAndGlyphs">/</text>
<text x="110.1" y="85.49" font-size="32.12" textLength="18.04" lengthAdjust="spacingAndGlyphs">d</text>
<text x="129.39" y="86.02" font-size="31.87" textLength="16.09" lengthAdjust="spacingAndGlyphs" font-style="italic">p</text>
<text x="145.63" y="90.7" font-size="23.67" textLength="15.8" lengthAdjust="spacingAndGlyphs">T</text>
<text x="163.35" y="90.56" font-size="23.2" textLength="11.76" lengthAdjust="spacingAndGlyphs">,j</text>
<text x="175.55" y="94.9" font-size="18.48" textLength="8.24" lengthAdjust="spacingAndGlyphs">1</text>
<text x="189.37" y="88.57" font-size="39.87" textLength="6.43" lengthAdjust="spacingAndGlyphs">[</text>
<text x="196.31" y="85.39" font-size="33.96" textLength="64.07" lengthAdjust="spacingAndGlyphs">GeV</text>
<text x="260.32" y="88.57" font-size="39.87" textLength="7.18" lengthAdjust="spacingAndGlyphs">]</text>
<text x="47.03" y="599.78" font-size="32.32" textLength="13.78" lengthAdjust="spacingAndGlyphs" font-style="italic">δ</text>
<text x="65.2" y="602.67" font-size="40.6" textLength="6.28" lengthAdjust="spacingAndGlyphs">[</text>
<text x="72.43" y="601.67" font-size="39.96" textLength="26.04" lengthAdjust="spacingAndGlyphs">%</text>
<text x="98.82" y="602.67" font-size="40.6" textLength="7.18" lengthAdjust="spacingAndGlyphs">]</text>
<text x="318.69" y="924.92" font-size="31.87" textLength="16.09" lengthAdjust="spacingAndGlyphs" font-style="italic">p</text>
<text x="334.93" y="929.6" font-size="23.67" textLength="15.8" lengthAdjust="spacingAndGlyphs">T</text>
<text x="352.65" y="929.46" font-size="23.2" textLength="11.76" lengthAdjust="spacingAndGlyphs">,j</text>
<text x="364.85" y="933.8" font-size="18.48" textLength="8.24" lengthAdjust="spacingAndGlyphs">1</text>
<text x="378.67" y="927.47" font-size="39.87" textLength="6.43" lengthAdjust="spacingAndGlyphs">[</text>
<text x="385.61" y="924.29" font-size="33.96" textLength="64.07" lengthAdjust="spacingAndGlyphs">GeV</text>
<text x="449.62" y="927.47" font-size="39.87" textLength="7.18" lengthAdjust="spacingAndGlyphs">]</text>
<rect x="846.8" y="115.6" width="620.4" height="425.4" fill="none" stroke="#000" stroke-width="2.0"/>
<rect x="846.8" y="614" width="620.4" height="238.7" fill="none" stroke="#000" stroke-width="2.0"/>
<path d="M839.3 541H846.8M839.3 369.27H846.8M839.3 197.54H846.8" stroke="#000" stroke-width="1.7" fill="none"/>
<path d="M842.3 489.3H846.8M842.3 459.06H846.8M842.3 437.61H846.8M842.3 420.96H846.8M842.3 407.37H846.8M842.3 395.87H846.8M842.3 385.91H846.8M842.3 377.13H846.8M842.3 317.57H846.8M842.3 287.33H846.8M842.3 265.88H846.8M842.3 249.23H846.8M842.3 235.64H846.8M842.3 224.14H846.8M842.3 214.18H846.8M842.3 205.39H846.8M842.3 145.84H846.8M842.3 115.6H846.8" stroke="#000" stroke-width="1.7" fill="none"/>
<text x="768.64" y="552.58" font-size="32.6" textLength="33.64" lengthAdjust="spacingAndGlyphs">10</text>
<text x="801.66" y="545.01" font-size="29.97" textLength="18.47" lengthAdjust="spacingAndGlyphs" font-family="'DejaVu Sans', sans-serif" font-weight="200">−</text>
<text x="819.89" y="540.57" font-size="23.47" textLength="12.16" lengthAdjust="spacingAndGlyphs">5</text>
<text x="768.64" y="380.85" font-size="32.6" textLength="33.64" lengthAdjust="spacingAndGlyphs">10</text>
<text x="801.66" y="373.28" font-size="29.97" textLength="18.47" lengthAdjust="spacingAndGlyphs" font-family="'DejaVu Sans', sans-serif" font-weight="200">−</text>
<text x="820.89" y="369.07" font-size="23.7" textLength="10.54" lengthAdjust="spacingAndGlyphs">4</text>
<text x="768.64" y="209.12" font-size="32.6" textLength="33.64" lengthAdjust="spacingAndGlyphs">10</text>
<text x="801.66" y="201.55" font-size="29.97" textLength="18.47" lengthAdjust="spacingAndGlyphs" font-family="'DejaVu Sans', sans-serif" font-weight="200">−</text>
<text x="820.16" y="197.11" font-size="23.22" textLength="11.86" lengthAdjust="spacingAndGlyphs">3</text>
<path d="M846.8 541V548.5M950.2 541V548.5M1053.6 541V548.5M1157 541V548.5M1260.4 541V548.5M1363.8 541V548.5M1467.2 541V548.5" stroke="#000" stroke-width="1.7" fill="none"/>
<path d="M846.8 852.7V860.2M950.2 852.7V860.2M1053.6 852.7V860.2M1157 852.7V860.2M1260.4 852.7V860.2M1363.8 852.7V860.2M1467.2 852.7V860.2" stroke="#000" stroke-width="1.7" fill="none"/>
<text x="821.41" y="890.58" font-size="32.31" textLength="50.11" lengthAdjust="spacingAndGlyphs">500</text>
<text x="924.54" y="890.58" font-size="32.31" textLength="50.39" lengthAdjust="spacingAndGlyphs">750</text>
<text x="1019.75" y="890.58" font-size="32.31" textLength="66.06" lengthAdjust="spacingAndGlyphs">1000</text>
<text x="1123.15" y="890.58" font-size="32.31" textLength="66.06" lengthAdjust="spacingAndGlyphs">1250</text>
<text x="1226.55" y="890.58" font-size="32.31" textLength="66.06" lengthAdjust="spacingAndGlyphs">1500</text>
<text x="1329.95" y="890.58" font-size="32.31" textLength="66.06" lengthAdjust="spacingAndGlyphs">1750</text>
<text x="1434.05" y="890.58" font-size="32.31" textLength="66.11" lengthAdjust="spacingAndGlyphs">2000</text>
<path d="M839.3 614H846.8M839.3 709.48H846.8M839.3 804.96H846.8" stroke="#000" stroke-width="1.7" fill="none"/>
<text x="816.15" y="624.99" font-size="32.01" textLength="16.4" lengthAdjust="spacingAndGlyphs">0</text>
<text x="774.48" y="723.07" font-size="32.47" textLength="27.84" lengthAdjust="spacingAndGlyphs" font-family="'DejaVu Sans', sans-serif" font-weight="200">−</text>
<text x="799.49" y="720.47" font-size="32.01" textLength="33.07" lengthAdjust="spacingAndGlyphs">10</text>
<text x="772.98" y="818.55" font-size="32.47" textLength="27.84" lengthAdjust="spacingAndGlyphs" font-family="'DejaVu Sans', sans-serif" font-weight="200">−</text>
<text x="799.44" y="815.95" font-size="32.01" textLength="33.12" lengthAdjust="spacingAndGlyphs">20</text>
<path d="M876.4 446H911" stroke="#800080" stroke-width="2.2" stroke-dasharray="7.4 3.2"/>
<path d="M876.4 492.6H911" stroke="#0000ff" stroke-width="2.2"/>
<path d="M1177 446H1212.4" stroke="#ffa500" stroke-width="2.2" stroke-dasharray="7.4 3.2"/>
<path d="M1177 492.6H1212.4" stroke="#ff0000" stroke-width="2.2"/>
<text x="937.3" y="457.67" font-size="34.23" textLength="46.33" lengthAdjust="spacingAndGlyphs">LO</text>
<text x="1238" y="457.67" font-size="34.23" textLength="46.33" lengthAdjust="spacingAndGlyphs">LO</text>
<text x="937.28" y="503.9" font-size="33.08" textLength="136.89" lengthAdjust="spacingAndGlyphs">NLO EW</text>
<text x="1237.98" y="503.9" font-size="33.08" textLength="136.89" lengthAdjust="spacingAndGlyphs">NLO EW</text>
<text x="982.78" y="445.8" font-size="25.68" textLength="38.24" lengthAdjust="spacingAndGlyphs" font-family="'DejaVu Sans', sans-serif" font-weight="200">++</text>
<text x="1072.6" y="492.4" font-size="25.68" textLength="39.49" lengthAdjust="spacingAndGlyphs" font-family="'DejaVu Sans', sans-serif" font-weight="200">++</text>
<text x="1284.66" y="448.01" font-size="29.97" textLength="35.49" lengthAdjust="spacingAndGlyphs" font-family="'DejaVu Sans', sans-serif" font-weight="200">−−</text>
<text x="1374.49" y="494.71" font-size="29.97" textLength="36.52" lengthAdjust="spacingAndGlyphs" font-family="'DejaVu Sans', sans-serif" font-weight="200">−−</text>
<text x="797.91" y="34.19" font-size="39.04" textLength="52.69" lengthAdjust="spacingAndGlyphs" font-weight="bold">(b)</text>
<text x="785.08" y="89.29" font-size="32.12" textLength="18.27" lengthAdjust="spacingAndGlyphs">d</text>
<text x="804.19" y="89.34" font-size="26.65" textLength="16.73" lengthAdjust="spacingAndGlyphs" font-style="italic">σ</text>
<text x="826.6" y="92.57" font-size="39.87" textLength="6.28" lengthAdjust="spacingAndGlyphs">[</text>
<text x="832.53" y="89.29" font-size="32.08" textLength="29" lengthAdjust="spacingAndGlyphs">fb</text>
<text x="860.85" y="92.57" font-size="39.87" textLength="6.88" lengthAdjust="spacingAndGlyphs">]</text>
<text x="872.3" y="97.03" font-size="48.43" textLength="12.6" lengthAdjust="spacingAndGlyphs">/</text>
<text x="886.4" y="89.29" font-size="32.12" textLength="18.04" lengthAdjust="spacingAndGlyphs">d</text>
<text x="905.86" y="89.6" font-size="31.62" textLength="26.8" lengthAdjust="spacingAndGlyphs" font-style="italic">m</text>
<text x="933" y="94.29" font-size="23.09" textLength="15.38" lengthAdjust="spacingAndGlyphs">jj</text>
<text x="950.97" y="92.37" font-size="39.87" textLength="6.43" lengthAdjust="spacingAndGlyphs">[</text>
<text x="957.91" y="89.19" font-size="33.96" textLength="64.07" lengthAdjust="spacingAndGlyphs">GeV</text>
<text x="1021.92" y="92.37" font-size="39.87" textLength="7.18" lengthAdjust="spacingAndGlyphs">]</text>
<text x="816.33" y="599.78" font-size="32.32" textLength="13.78" lengthAdjust="spacingAndGlyphs" font-style="italic">δ</text>
<text x="834.5" y="602.67" font-size="40.6" textLength="6.28" lengthAdjust="spacingAndGlyphs">[</text>
<text x="841.73" y="601.67" font-size="39.96" textLength="26.04" lengthAdjust="spacingAndGlyphs">%</text>
<text x="868.12" y="602.67" font-size="40.6" textLength="7.18" lengthAdjust="spacingAndGlyphs">]</text>
<text x="1093.06" y="928.5" font-size="31.62" textLength="26.8" lengthAdjust="spacingAndGlyphs" font-style="italic">m</text>
<text x="1120.2" y="933.19" font-size="23.09" textLength="15.38" lengthAdjust="spacingAndGlyphs">jj</text>
<text x="1138.17" y="931.27" font-size="39.87" textLength="6.43" lengthAdjust="spacingAndGlyphs">[</text>
<text x="1145.11" y="928.09" font-size="33.96" textLength="64.07" lengthAdjust="spacingAndGlyphs">GeV</text>
<text x="1209.12" y="931.27" font-size="39.87" textLength="7.18" lengthAdjust="spacingAndGlyphs">]</text>
<rect x="77.5" y="1080.2" width="620.3" height="425.4" fill="none" stroke="#000" stroke-width="2.0"/>
<rect x="77.5" y="1578.5" width="620.3" height="238.8" fill="none" stroke="#000" stroke-width="2.0"/>
<path d="M70 1505.6H77.5M70 1428.25H77.5M70 1350.91H77.5M70 1273.56H77.5M70 1196.22H77.5M70 1118.87H77.5" stroke="#000" stroke-width="1.7" fill="none"/>
<text x="21.15" y="1516.45" font-size="31.8" textLength="42.14" lengthAdjust="spacingAndGlyphs">0.0</text>
<text x="21.13" y="1439.1" font-size="31.8" textLength="42.76" lengthAdjust="spacingAndGlyphs">0.2</text>
<text x="21.17" y="1361.76" font-size="31.8" textLength="41.35" lengthAdjust="spacingAndGlyphs">0.4</text>
<text x="21.16" y="1284.41" font-size="31.8" textLength="41.84" lengthAdjust="spacingAndGlyphs">0.6</text>
<text x="21.15" y="1207.07" font-size="31.8" textLength="42.14" lengthAdjust="spacingAndGlyphs">0.8</text>
<text x="20.95" y="1129.72" font-size="31.8" textLength="42.34" lengthAdjust="spacingAndGlyphs">1.0</text>
<path d="M77.51 1505.6V1513.1M180.89 1505.6V1513.1M284.27 1505.6V1513.1M387.65 1505.6V1513.1M491.03 1505.6V1513.1M594.41 1505.6V1513.1M697.79 1505.6V1513.1" stroke="#000" stroke-width="1.7" fill="none"/>
<path d="M77.51 1817.3V1824.8M180.89 1817.3V1824.8M284.27 1817.3V1824.8M387.65 1817.3V1824.8M491.03 1817.3V1824.8M594.41 1817.3V1824.8M697.79 1817.3V1824.8" stroke="#000" stroke-width="1.7" fill="none"/>
<text x="54.84" y="1857.79" font-size="32.47" textLength="27.84" lengthAdjust="spacingAndGlyphs" font-family="'DejaVu Sans', sans-serif" font-weight="200">−</text>
<text x="81.15" y="1855.18" font-size="32.45" textLength="16.82" lengthAdjust="spacingAndGlyphs">3</text>
<text x="158.22" y="1857.79" font-size="32.47" textLength="27.84" lengthAdjust="spacingAndGlyphs" font-family="'DejaVu Sans', sans-serif" font-weight="200">−</text>
<text x="184.62" y="1855.5" font-size="32.93" textLength="17.34" lengthAdjust="spacingAndGlyphs">2</text>
<text x="262.35" y="1857.79" font-size="32.47" textLength="27.84" lengthAdjust="spacingAndGlyphs" font-family="'DejaVu Sans', sans-serif" font-weight="200">−</text>
<text x="287.17" y="1855.5" font-size="33.02" textLength="17.61" lengthAdjust="spacingAndGlyphs">1</text>
<text x="379.45" y="1855.18" font-size="32.31" textLength="16.4" lengthAdjust="spacingAndGlyphs">0</text>
<text x="481.73" y="1855.5" font-size="33.02" textLength="17.61" lengthAdjust="spacingAndGlyphs">1</text>
<text x="585.94" y="1855.5" font-size="32.93" textLength="17.34" lengthAdjust="spacingAndGlyphs">2</text>
<text x="689.23" y="1855.18" font-size="32.45" textLength="16.82" lengthAdjust="spacingAndGlyphs">3</text>
<path d="M70 1578.5H77.5M70 1697.9H77.5M70 1817.3H77.5" stroke="#000" stroke-width="1.7" fill="none"/>
<text x="46.85" y="1589.49" font-size="32.01" textLength="16.4" lengthAdjust="spacingAndGlyphs">0</text>
<text x="5.18" y="1711.49" font-size="32.47" textLength="27.84" lengthAdjust="spacingAndGlyphs" font-family="'DejaVu Sans', sans-serif" font-weight="200">−</text>
<text x="30.19" y="1708.89" font-size="32.01" textLength="33.07" lengthAdjust="spacingAndGlyphs">10</text>
<text x="3.68" y="1830.89" font-size="32.47" textLength="27.84" lengthAdjust="spacingAndGlyphs" font-family="'DejaVu Sans', sans-serif" font-weight="200">−</text>
<text x="30.14" y="1828.29" font-size="32.01" textLength="33.12" lengthAdjust="spacingAndGlyphs">20</text>
<path d="M132.7 1122.8H168.3" stroke="#800080" stroke-width="2.2" stroke-dasharray="7.4 3.2"/>
<path d="M132.7 1169.2H168.3" stroke="#0000ff" stroke-width="2.2"/>
<path d="M433.5 1122.8H468.3" stroke="#ffa500" stroke-width="2.2" stroke-dasharray="7.4 3.2"/>
<path d="M433.5 1169.2H468.3" stroke="#ff0000" stroke-width="2.2"/>
<text x="194.3" y="1134.47" font-size="34.23" textLength="46.33" lengthAdjust="spacingAndGlyphs">LO</text>
<text x="494.3" y="1134.47" font-size="34.23" textLength="46.33" lengthAdjust="spacingAndGlyphs">LO</text>
<text x="194.28" y="1180.5" font-size="33.08" textLength="136.89" lengthAdjust="spacingAndGlyphs">NLO EW</text>
<text x="494.28" y="1180.5" font-size="33.08" textLength="136.89" lengthAdjust="spacingAndGlyphs">NLO EW</text>
<text x="239.78" y="1122.6" font-size="25.68" textLength="38.24" lengthAdjust="spacingAndGlyphs" font-family="'DejaVu Sans', sans-serif" font-weight="200">++</text>
<text x="329.6" y="1169" font-size="25.68" textLength="39.49" lengthAdjust="spacingAndGlyphs" font-family="'DejaVu Sans', sans-serif" font-weight="200">++</text>
<text x="540.96" y="1124.81" font-size="29.97" textLength="35.49" lengthAdjust="spacingAndGlyphs" font-family="'DejaVu Sans', sans-serif" font-weight="200">−−</text>
<text x="630.79" y="1171.31" font-size="29.97" textLength="36.52" lengthAdjust="spacingAndGlyphs" font-family="'DejaVu Sans', sans-serif" font-weight="200">−−</text>
<text x="28.87" y="998.19" font-size="39.48" textLength="48.76" lengthAdjust="spacingAndGlyphs" font-weight="bold">(c)</text>
<text x="64.38" y="1053.49" font-size="32.12" textLength="18.27" lengthAdjust="spacingAndGlyphs">d</text>
<text x="83.49" y="1053.54" font-size="26.65" textLength="16.73" lengthAdjust="spacingAndGlyphs" font-style="italic">σ</text>
<text x="105.9" y="1056.77" font-size="39.87" textLength="6.28" lengthAdjust="spacingAndGlyphs">[</text>
<text x="111.83" y="1053.49" font-size="32.08" textLength="29" lengthAdjust="spacingAndGlyphs">fb</text>
<text x="140.15" y="1056.77" font-size="39.87" textLength="6.88" lengthAdjust="spacingAndGlyphs">]</text>
<text x="151.6" y="1061.23" font-size="48.43" textLength="12.6" lengthAdjust="spacingAndGlyphs">/</text>
<text x="165.7" y="1053.49" font-size="32.12" textLength="18.04" lengthAdjust="spacingAndGlyphs">d</text>
<text x="187.37" y="1053.89" font-size="31.56" textLength="12.61" lengthAdjust="spacingAndGlyphs" font-style="italic">y</text>
<text x="199.67" y="1058.86" font-size="23.66" textLength="14.82" lengthAdjust="spacingAndGlyphs">jj</text>
<text x="47.03" y="1564.28" font-size="32.32" textLength="13.78" lengthAdjust="spacingAndGlyphs" font-style="italic">δ</text>
<text x="65.2" y="1567.17" font-size="40.6" textLength="6.28" lengthAdjust="spacingAndGlyphs">[</text>
<text x="72.43" y="1566.17" font-size="39.96" textLength="26.04" lengthAdjust="spacingAndGlyphs">%</text>
<text x="98.82" y="1567.17" font-size="40.6" textLength="7.18" lengthAdjust="spacingAndGlyphs">]</text>
<text x="376.07" y="1887.79" font-size="31.56" textLength="12.61" lengthAdjust="spacingAndGlyphs" font-style="italic">y</text>
<text x="388.37" y="1892.76" font-size="23.66" textLength="14.82" lengthAdjust="spacingAndGlyphs">jj</text>
<rect x="846.8" y="1080.2" width="620.4" height="425.4" fill="none" stroke="#000" stroke-width="2.0"/>
<rect x="846.8" y="1578.5" width="620.4" height="238.8" fill="none" stroke="#000" stroke-width="2.0"/>
<path d="M839.3 1505.6H846.8M839.3 1363.8H846.8M839.3 1222H846.8M839.3 1080.2H846.8" stroke="#000" stroke-width="1.7" fill="none"/>
<path d="M842.3 1462.91H846.8M842.3 1437.94H846.8M842.3 1420.23H846.8M842.3 1406.49H846.8M842.3 1395.26H846.8M842.3 1385.77H846.8M842.3 1377.54H846.8M842.3 1370.29H846.8M842.3 1321.11H846.8M842.3 1296.14H846.8M842.3 1278.43H846.8M842.3 1264.69H846.8M842.3 1253.46H846.8M842.3 1243.97H846.8M842.3 1235.74H846.8M842.3 1228.49H846.8M842.3 1179.31H846.8M842.3 1154.34H846.8M842.3 1136.63H846.8M842.3 1122.89H846.8M842.3 1111.66H846.8M842.3 1102.17H846.8M842.3 1093.94H846.8M842.3 1086.69H846.8" stroke="#000" stroke-width="1.7" fill="none"/>
<text x="768.64" y="1517.18" font-size="32.6" textLength="33.64" lengthAdjust="spacingAndGlyphs">10</text>
<text x="801.66" y="1509.61" font-size="29.97" textLength="18.47" lengthAdjust="spacingAndGlyphs" font-family="'DejaVu Sans', sans-serif" font-weight="200">−</text>
<text x="819.89" y="1505.17" font-size="23.47" textLength="12.16" lengthAdjust="spacingAndGlyphs">5</text>
<text x="768.64" y="1375.38" font-size="32.6" textLength="33.64" lengthAdjust="spacingAndGlyphs">10</text>
<text x="801.66" y="1367.81" font-size="29.97" textLength="18.47" lengthAdjust="spacingAndGlyphs" font-family="'DejaVu Sans', sans-serif" font-weight="200">−</text>
<text x="820.89" y="1363.6" font-size="23.7" textLength="10.54" lengthAdjust="spacingAndGlyphs">4</text>
<text x="768.64" y="1233.58" font-size="32.6" textLength="33.64" lengthAdjust="spacingAndGlyphs">10</text>
<text x="801.66" y="1226.01" font-size="29.97" textLength="18.47" lengthAdjust="spacingAndGlyphs" font-family="'DejaVu Sans', sans-serif" font-weight="200">−</text>
<text x="820.16" y="1221.57" font-size="23.22" textLength="11.86" lengthAdjust="spacingAndGlyphs">3</text>
<text x="768.64" y="1091.78" font-size="32.6" textLength="33.64" lengthAdjust="spacingAndGlyphs">10</text>
<text x="801.66" y="1084.21" font-size="29.97" textLength="18.47" lengthAdjust="spacingAndGlyphs" font-family="'DejaVu Sans', sans-serif" font-weight="200">−</text>
<text x="820.23" y="1080" font-size="23.56" textLength="12.22" lengthAdjust="spacingAndGlyphs">2</text>
<path d="M883.29 1505.6V1513.1M1029.27 1505.6V1513.1M1175.25 1505.6V1513.1M1321.22 1505.6V1513.1M1467.2 1505.6V1513.1" stroke="#000" stroke-width="1.7" fill="none"/>
<path d="M883.29 1817.3V1824.8M1029.27 1817.3V1824.8M1175.25 1817.3V1824.8M1321.22 1817.3V1824.8M1467.2 1817.3V1824.8" stroke="#000" stroke-width="1.7" fill="none"/>
<text x="858.39" y="1855.18" font-size="32.31" textLength="49.61" lengthAdjust="spacingAndGlyphs">200</text>
<text x="1005.18" y="1855.18" font-size="32.31" textLength="48.77" lengthAdjust="spacingAndGlyphs">400</text>
<text x="1150.38" y="1855.18" font-size="32.31" textLength="49.58" lengthAdjust="spacingAndGlyphs">600</text>
<text x="1296.52" y="1855.18" font-size="32.31" textLength="49.41" lengthAdjust="spacingAndGlyphs">800</text>
<text x="1433.34" y="1855.18" font-size="32.31" textLength="66.06" lengthAdjust="spacingAndGlyphs">1000</text>
<path d="M839.3 1578.5H846.8M839.3 1638.2H846.8M839.3 1697.9H846.8M839.3 1757.6H846.8M839.3 1817.3H846.8" stroke="#000" stroke-width="1.7" fill="none"/>
<text x="816.15" y="1589.49" font-size="32.01" textLength="16.4" lengthAdjust="spacingAndGlyphs">0</text>
<text x="774.48" y="1651.79" font-size="32.47" textLength="27.84" lengthAdjust="spacingAndGlyphs" font-family="'DejaVu Sans', sans-serif" font-weight="200">−</text>
<text x="799.49" y="1649.19" font-size="32.01" textLength="33.07" lengthAdjust="spacingAndGlyphs">10</text>
<text x="772.98" y="1711.49" font-size="32.47" textLength="27.84" lengthAdjust="spacingAndGlyphs" font-family="'DejaVu Sans', sans-serif" font-weight="200">−</text>
<text x="799.44" y="1708.89" font-size="32.01" textLength="33.12" lengthAdjust="spacingAndGlyphs">20</text>
<text x="772.98" y="1771.19" font-size="32.47" textLength="27.84" lengthAdjust="spacingAndGlyphs" font-family="'DejaVu Sans', sans-serif" font-weight="200">−</text>
<text x="799.31" y="1768.59" font-size="32.01" textLength="33.26" lengthAdjust="spacingAndGlyphs">30</text>
<text x="772.98" y="1830.89" font-size="32.47" textLength="27.84" lengthAdjust="spacingAndGlyphs" font-family="'DejaVu Sans', sans-serif" font-weight="200">−</text>
<text x="800.27" y="1828.29" font-size="32.01" textLength="32.26" lengthAdjust="spacingAndGlyphs">40</text>
<path d="M876.2 1410.1H911" stroke="#800080" stroke-width="2.2" stroke-dasharray="7.4 3.2"/>
<path d="M876.2 1457.2H911" stroke="#0000ff" stroke-width="2.2"/>
<path d="M1177.4 1410.1H1212.1" stroke="#ffa500" stroke-width="2.2" stroke-dasharray="7.4 3.2"/>
<path d="M1177.4 1457.2H1212.1" stroke="#ff0000" stroke-width="2.2"/>
<text x="937.4" y="1421.77" font-size="34.23" textLength="46.33" lengthAdjust="spacingAndGlyphs">LO</text>
<text x="1238.2" y="1421.77" font-size="34.23" textLength="46.33" lengthAdjust="spacingAndGlyphs">LO</text>
<text x="937.38" y="1468.5" font-size="33.08" textLength="136.89" lengthAdjust="spacingAndGlyphs">NLO EW</text>
<text x="1238.18" y="1468.5" font-size="33.08" textLength="136.89" lengthAdjust="spacingAndGlyphs">NLO EW</text>
<text x="982.88" y="1409.9" font-size="25.68" textLength="38.24" lengthAdjust="spacingAndGlyphs" font-family="'DejaVu Sans', sans-serif" font-weight="200">++</text>
<text x="1072.7" y="1457" font-size="25.68" textLength="39.49" lengthAdjust="spacingAndGlyphs" font-family="'DejaVu Sans', sans-serif" font-weight="200">++</text>
<text x="1284.86" y="1412.11" font-size="29.97" textLength="35.49" lengthAdjust="spacingAndGlyphs" font-family="'DejaVu Sans', sans-serif" font-weight="200">−−</text>
<text x="1374.69" y="1459.31" font-size="29.97" textLength="36.52" lengthAdjust="spacingAndGlyphs" font-family="'DejaVu Sans', sans-serif" font-weight="200">−−</text>
<text x="797.92" y="998.29" font-size="39.04" textLength="52.26" lengthAdjust="spacingAndGlyphs" font-weight="bold">(d)</text>
<text x="781.38" y="1053.19" font-size="32.12" textLength="18.27" lengthAdjust="spacingAndGlyphs">d</text>
<text x="800.49" y="1053.24" font-size="26.65" textLength="16.73" lengthAdjust="spacingAndGlyphs" font-style="italic">σ</text>
<text x="822.9" y="1056.47" font-size="39.87" textLength="6.28" lengthAdjust="spacingAndGlyphs">[</text>
<text x="828.83" y="1053.19" font-size="32.08" textLength="29" lengthAdjust="spacingAndGlyphs">fb</text>
<text x="857.15" y="1056.47" font-size="39.87" textLength="6.88" lengthAdjust="spacingAndGlyphs">]</text>
<text x="868.6" y="1060.93" font-size="48.43" textLength="12.6" lengthAdjust="spacingAndGlyphs">/</text>
<text x="882.7" y="1053.19" font-size="32.12" textLength="18.04" lengthAdjust="spacingAndGlyphs">d</text>
<text x="900.57" y="1053.5" font-size="29.71" textLength="28.59" lengthAdjust="spacingAndGlyphs" font-style="italic">m</text>
<text x="930.1" y="1058.5" font-size="22.79" textLength="10.22" lengthAdjust="spacingAndGlyphs">4</text>
<text x="940.9" y="1058.27" font-size="23.69" textLength="10.22" lengthAdjust="spacingAndGlyphs" font-style="italic">ℓ</text>
<text x="953.97" y="1056.27" font-size="39.87" textLength="6.43" lengthAdjust="spacingAndGlyphs">[</text>
<text x="960.91" y="1053.09" font-size="33.96" textLength="64.07" lengthAdjust="spacingAndGlyphs">GeV</text>
<text x="1024.92" y="1056.27" font-size="39.87" textLength="7.18" lengthAdjust="spacingAndGlyphs">]</text>
<text x="816.33" y="1564.28" font-size="32.32" textLength="13.78" lengthAdjust="spacingAndGlyphs" font-style="italic">δ</text>
<text x="834.5" y="1567.17" font-size="40.6" textLength="6.28" lengthAdjust="spacingAndGlyphs">[</text>
<text x="841.73" y="1566.17" font-size="39.96" textLength="26.04" lengthAdjust="spacingAndGlyphs">%</text>
<text x="868.12" y="1567.17" font-size="40.6" textLength="7.18" lengthAdjust="spacingAndGlyphs">]</text>
<text x="1089.27" y="1891.1" font-size="29.71" textLength="28.59" lengthAdjust="spacingAndGlyphs" font-style="italic">m</text>
<text x="1118.8" y="1896.1" font-size="22.79" textLength="10.22" lengthAdjust="spacingAndGlyphs">4</text>
<text x="1129.6" y="1895.87" font-size="23.69" textLength="10.22" lengthAdjust="spacingAndGlyphs" font-style="italic">ℓ</text>
<text x="1142.67" y="1893.87" font-size="39.87" textLength="6.43" lengthAdjust="spacingAndGlyphs">[</text>
<text x="1149.61" y="1890.69" font-size="33.96" textLength="64.07" lengthAdjust="spacingAndGlyphs">GeV</text>
<text x="1213.62" y="1893.87" font-size="39.87" textLength="7.18" lengthAdjust="spacingAndGlyphs">]</text>
</svg>
</body></html>
